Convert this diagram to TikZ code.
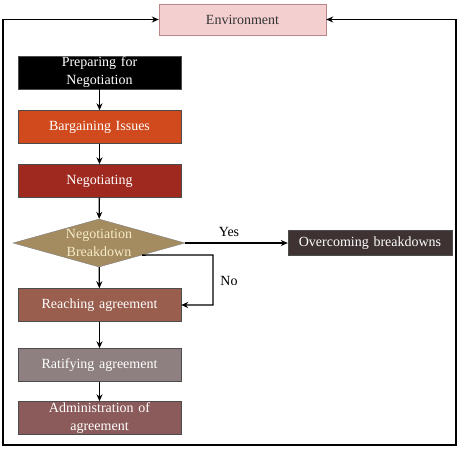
\documentclass[tikz,border=0pt]{standalone}
\usepackage{fontspec}
\setmainfont{Liberation Serif}
\usepackage{xcolor}
\usetikzlibrary{shapes.geometric, arrows.meta}

\definecolor{envpink}{RGB}{244,207,208}
\definecolor{envedge}{RGB}{185,135,135}
\definecolor{bargred}{RGB}{208,74,30}
\definecolor{negored}{RGB}{160,41,31}
\definecolor{diakhaki}{RGB}{164,139,96}
\definecolor{diatext}{RGB}{246,236,200}
\definecolor{reachbrown}{RGB}{154,94,78}
\definecolor{ratgrey}{RGB}{142,128,128}
\definecolor{adminbrown}{RGB}{139,90,90}
\definecolor{overdark}{RGB}{62,50,50}

\tikzset{
  stagebox/.style={rectangle, draw=black!70, minimum width=163pt, minimum height=33pt,
    text width=157pt, align=center, inner sep=1pt, text=white,
    font=\fontsize{14}{18}\selectfont},
  flow/.style={-{Stealth[length=7pt, width=6pt]}, line width=1.3pt}
}

\begin{document}
\begin{tikzpicture}[x=1pt, y=-1pt]
    \useasboundingbox (0,0) rectangle (460,450);

    \node[stagebox, fill=envpink, draw=envedge, minimum width=167pt, minimum height=31pt,
      text=black!80] (env) at (242.5,19.5) {Environment};

    \node[stagebox, fill=black] (prep) at (99.5,72.5) {Preparing for\\Negotiation};
    \node[stagebox, fill=bargred] (barg) at (99.5,127) {Bargaining Issues};
    \node[stagebox, fill=negored] (nego) at (99.5,181) {Negotiating};
    \node[diamond, draw=black!50, fill=diakhaki, minimum width=172pt, minimum height=48pt,
      inner sep=0pt, aspect=3.6, align=center, text=diatext,
      font=\fontsize{14}{18}\selectfont] (dia) at (99,243) {Negotiation\\Breakdown};
    \node[stagebox, fill=reachbrown] (reach) at (99.5,305) {Reaching agreement};
    \node[stagebox, fill=ratgrey] (ratify) at (99.5,365) {Ratifying agreement};
    \node[stagebox, fill=adminbrown] (admin) at (99.5,418) {Administration of\\agreement};

    \node[stagebox, fill=overdark, minimum width=164pt, minimum height=25pt] (over)
      at (370,243) {Overcoming breakdowns};

    \node[font=\fontsize{14}{16}\selectfont] (yes) at (229,232) {Yes};
    \node[font=\fontsize{14}{16}\selectfont] (no) at (229,281) {No};

    \coordinate (nobend) at (213,255);
    \coordinate (lowleft) at (3,445);
    \coordinate (lowright) at (456,445);

    \draw[flow] (prep) -- (barg);
    \draw[flow] (barg) -- (nego);
    \draw[flow] (nego) -- (dia);
    \draw[flow] (dia) -- (reach);
    \draw[flow] (reach) -- (ratify);
    \draw[flow] (ratify) -- (admin);

    \draw[flow] (dia.east) -- (over.west);
    \draw[flow] (dia.south east) -- (nobend) |- (reach.east);

    \draw[{Stealth[length=7pt, width=6pt]}-{Stealth[length=7pt, width=6pt]}, line width=1.3pt]
      (env.west) -| (lowleft) -- (lowright) |- (env.east);
\end{tikzpicture}
\end{document}
